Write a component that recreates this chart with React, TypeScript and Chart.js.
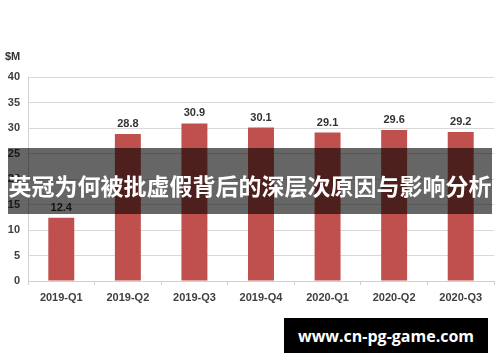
import React, { useEffect, useRef } from "react";
import { Chart, registerables } from "chart.js";

Chart.register(...registerables);

const categories = ["2019-Q1", "2019-Q2", "2019-Q3", "2019-Q4", "2020-Q1", "2020-Q2", "2020-Q3"];
const revenue = [12.4, 28.8, 30.9, 30.1, 29.1, 29.6, 29.2];
const unitLabel = "$M";
const bannerText = "英冠为何被批虚假背后的深层次原因与影响分析";
const watermarkText = "www.cn-pg-game.com";

const labelPlugin = {
  id: "valueLabels",
  afterDatasetsDraw(chart: any) {
    const ctx = chart.ctx;
    ctx.save();
    ctx.font = "bold 11px 'Liberation Sans', Arial, sans-serif";
    ctx.fillStyle = "#333333";
    ctx.textAlign = "center";
    ctx.textBaseline = "middle";
    const meta = chart.getDatasetMeta(0);
    meta.data.forEach((bar: any, i: number) => {
      ctx.fillText(revenue[i].toFixed(1), bar.x, bar.y - 10);
    });
    ctx.textAlign = "left";
    ctx.fillText(unitLabel, 5, 57);
    ctx.restore();
  },
};

export default function App() {
  const ref = useRef<HTMLCanvasElement | null>(null);
  useEffect(() => {
    if (!ref.current) return;
    const chart = new Chart(ref.current, {
      type: "bar",
      data: {
        labels: categories,
        datasets: [
          {
            data: revenue,
            backgroundColor: "#c0504d",
            barPercentage: 0.39,
            categoryPercentage: 1,
          },
        ],
      },
      options: {
        animation: false,
        responsive: true,
        maintainAspectRatio: false,
        layout: { padding: { left: 0, right: 6, top: 77, bottom: 51 } },
        plugins: { legend: { display: false }, tooltip: { enabled: false } },
        scales: {
          x: {
            offset: true,
            grid: { drawOnChartArea: false, drawTicks: true, tickLength: 4, color: "#d0d0d0" },
            border: { color: "#d0d0d0" },
            ticks: {
              color: "#404040",
              font: { family: "'Liberation Sans', Arial, sans-serif", size: 11, weight: "bold" },
              padding: 6,
              maxRotation: 0,
            },
            afterFit(scale: any) {
              scale.height = 30;
            },
          },
          y: {
            min: 0,
            max: 40,
            ticks: {
              stepSize: 5,
              color: "#404040",
              padding: 8,
              font: { family: "'Liberation Sans', Arial, sans-serif", size: 11, weight: "bold" },
            },
            grid: { color: "#d9d9d9", drawTicks: false },
            border: { color: "#d0d0d0" },
            afterFit(scale: any) {
              scale.width = 28;
            },
          },
        },
      },
      plugins: [labelPlugin],
    });
    return () => chart.destroy();
  }, []);

  return (
    <div style={{ position: "fixed", left: 0, top: 0, width: 500, height: 362, background: "#fff" }}>
      <canvas ref={ref} />
      <div
        style={{
          position: "absolute",
          left: 8,
          top: 148,
          width: 484,
          height: 66,
          background: "rgba(0,0,0,0.6)",
          color: "#fff",
          fontFamily: "'Noto Sans CJK SC', sans-serif",
          fontWeight: "bold",
          fontSize: 23,
          display: "flex",
          alignItems: "center",
          justifyContent: "center",
          paddingTop: 8,
          boxSizing: "border-box",
          whiteSpace: "nowrap",
        }}
      >
        {bannerText}
      </div>
      <div
        style={{
          position: "absolute",
          left: 284,
          top: 318,
          width: 204,
          height: 35,
          background: "#000",
          color: "#fff",
          fontFamily: "'Open Sans', sans-serif",
          fontWeight: "bold",
          fontSize: 16,
          display: "flex",
          alignItems: "center",
          justifyContent: "center",
          whiteSpace: "nowrap",
        }}
      >
        {watermarkText}
      </div>
    </div>
  );
}
